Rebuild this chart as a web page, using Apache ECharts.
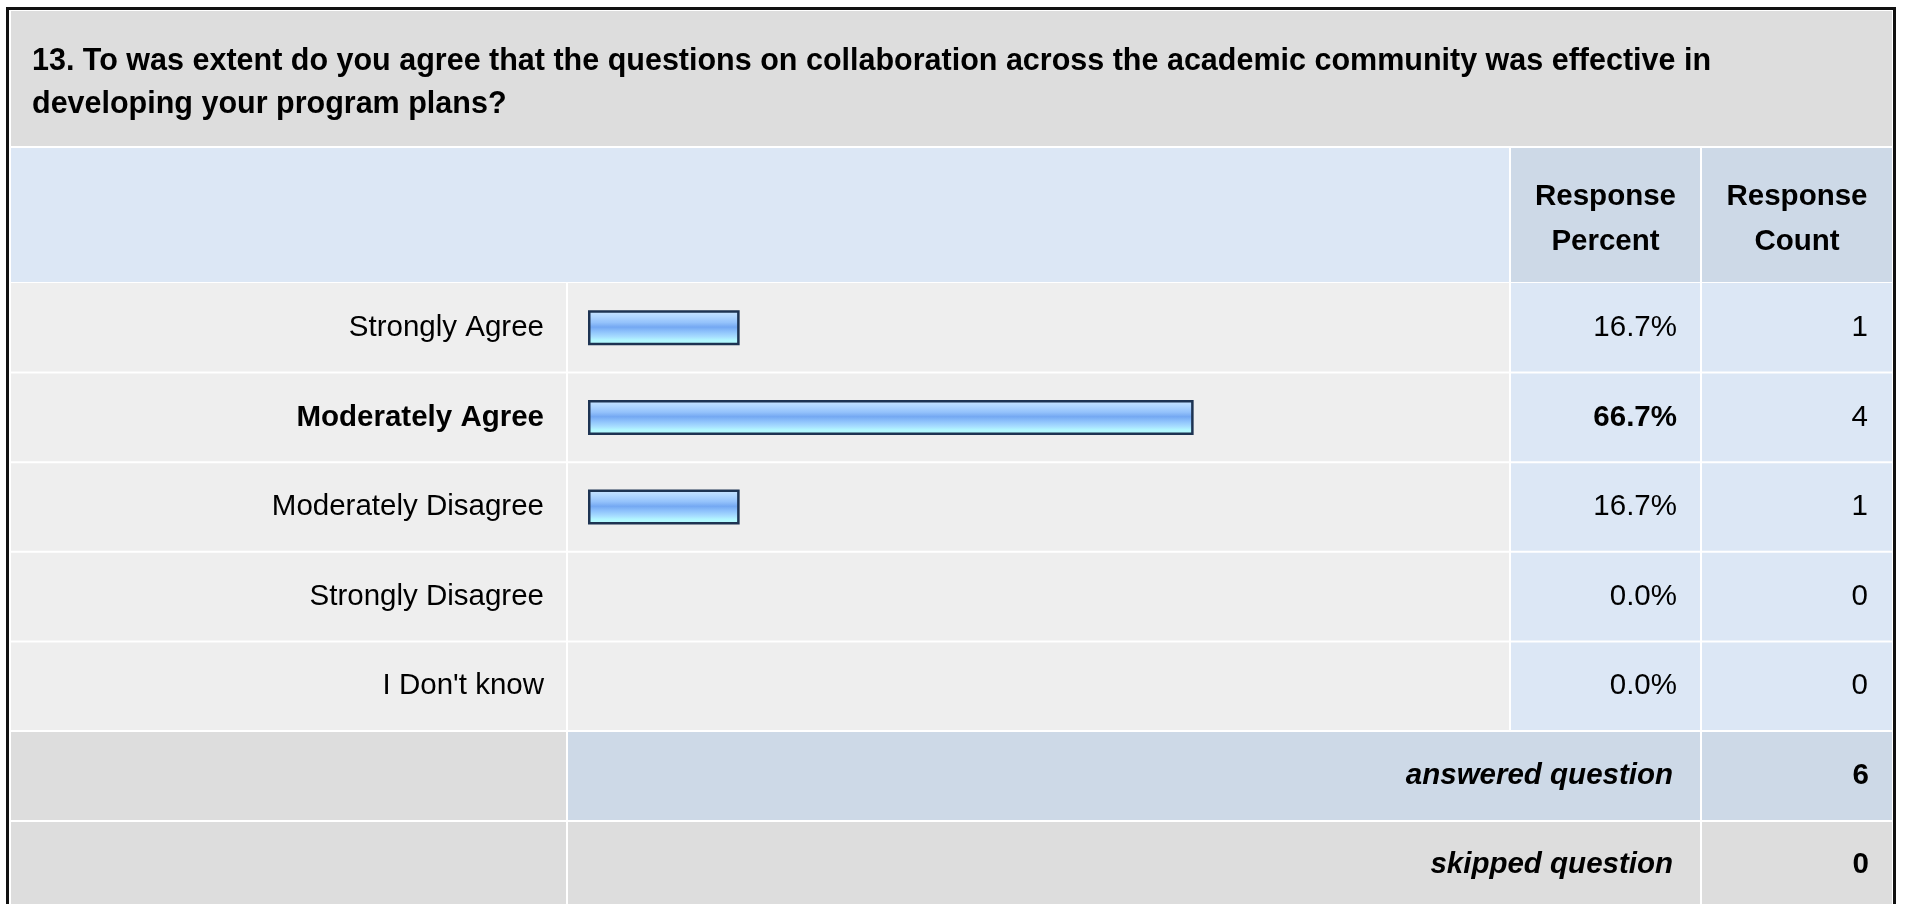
<!DOCTYPE html>
<html>
<head>
<meta charset="utf-8">
<script src="https://cdn.jsdelivr.net/npm/echarts@6/dist/echarts.min.js"></script>
<style>
html,body{margin:0;padding:0;background:#ffffff;}
#chart{width:1907px;height:904px;}
</style>
</head>
<body>
<div id="chart"></div>
<script>
// ---- data ----
var title = ['13. To was extent do you agree that the questions on collaboration across the academic community was effective in', 'developing your program plans?'];
var categories = ['Strongly Agree', 'Moderately Agree', 'Moderately Disagree', 'Strongly Disagree', "I Don't know"];
var percents = [16.7, 66.7, 16.7, 0.0, 0.0];
var counts = [1, 4, 1, 0, 0];
var boldRows = ['Moderately Agree'];
var answered = 6;
var skipped = 0;
var headerPercent = ['Response', 'Percent'];
var headerCount = ['Response', 'Count'];

// ---- layout ----
var FONT = '"Liberation Sans", Arial, sans-serif';
var FS = 29.5, FS_T = 30.5;
var X0 = 11, X1 = 566, XB = 568, XP0 = 1511, XP1 = 1700, XC0 = 1702, XC1 = 1892;
var Y_T0 = 11, Y_T1 = 146, Y_H0 = 148, Y_H1 = 282;
var ROW_TOP = 283, ROW_H = 89.6, N = categories.length;
var ROW_BOTTOM = ROW_TOP + ROW_H * N; // ~731
var Y_A0 = ROW_BOTTOM + 1, Y_A1 = 820, Y_S0 = 822, Y_S1 = 904;
var BAR_LEFT = 588, BAR_W = 908;

var C_GRAY = '#dddddd', C_ROW = '#eeeeee', C_LB = '#dce7f5', C_HB = '#cdd9e7';

var g = [];
function rect(x0, y0, x1, y1, color) {
  g.push({type: 'rect', z: 0, silent: true, shape: {x: x0, y: y0, width: x1 - x0, height: y1 - y0}, style: {fill: color}});
}
function text(x, y, str, align, weight, style, size) {
  g.push({type: 'text', z: 5, silent: true, x: x, y: y, style: {text: str, fill: '#000', font: (style || 'normal') + ' ' + (weight || 'normal') + ' ' + (size || FS) + 'px ' + FONT, align: align, verticalAlign: 'middle'}});
}
// frame
g.push({type: 'rect', z: 1, silent: true, shape: {x: 7.5, y: 8.5, width: 1887, height: 910}, style: {fill: 'none', stroke: '#111', lineWidth: 3}});
// title band
rect(X0, Y_T0, XC1, Y_T1, C_GRAY);
text(32, 62, title[0], 'left', 'bold', null, FS_T);
text(32, 105, title[1], 'left', 'bold', null, FS_T);
// header
rect(X0, Y_H0, XP0 - 2, Y_H1, C_LB);
rect(XP0, Y_H0, XP1, Y_H1, C_HB);
rect(XC0, Y_H0, XC1, Y_H1, C_HB);
text((XP0 + XP1) / 2, 197, headerPercent[0], 'center', 'bold');
text((XP0 + XP1) / 2, 242, headerPercent[1], 'center', 'bold');
text((XC0 + XC1) / 2, 197, headerCount[0], 'center', 'bold');
text((XC0 + XC1) / 2, 242, headerCount[1], 'center', 'bold');
// data rows
for (var i = 0; i < N; i++) {
  var y0 = ROW_TOP + ROW_H * i + (i ? 1 : 0), y1 = ROW_TOP + ROW_H * (i + 1) - 1;
  rect(X0, y0, X1, y1, C_ROW);
  rect(XB, y0, XP0 - 2, y1, C_ROW);
  rect(XP0, y0, XP1, y1, C_LB);
  rect(XC0, y0, XC1, y1, C_LB);
}
// answered / skipped
rect(X0, Y_A0, X1, Y_A1, C_GRAY);
rect(XB, Y_A0, XP1, Y_A1, C_HB);
rect(XC0, Y_A0, XC1, Y_A1, C_HB);
rect(X0, Y_S0, X1, Y_S1, C_GRAY);
rect(XB, Y_S0, XP1, Y_S1, C_GRAY);
rect(XC0, Y_S0, XC1, Y_S1, C_GRAY);
text(1673, (Y_A0 + Y_A1) / 2, 'answered question', 'right', 'bold', 'italic');
text(1869, (Y_A0 + Y_A1) / 2, String(answered), 'right', 'bold');
text(1673, (Y_S0 + Y_S1) / 2 + 2, 'skipped question', 'right', 'bold', 'italic');
text(1869, (Y_S0 + Y_S1) / 2 + 2, String(skipped), 'right', 'bold');

function isBold(name) { return boldRows.indexOf(name) >= 0; }
function labelFmt(v, idx) {
  return isBold(categories[idx]) ? '{b|' + v + '}' : '{n|' + v + '}';
}
var rich = {
  n: {fontFamily: FONT, fontSize: FS, color: '#000', fontWeight: 'normal'},
  b: {fontFamily: FONT, fontSize: FS, color: '#000', fontWeight: 'bold'}
};

var barData = percents.map(function (p) {
  return p > 0 ? p : {value: p, itemStyle: {borderWidth: 0, opacity: 0}};
});

var chart = echarts.init(document.getElementById('chart'), null, {renderer: 'canvas'});
chart.setOption({
  animation: false,
  backgroundColor: '#ffffff',
  graphic: {elements: g},
  grid: {left: BAR_LEFT, top: ROW_TOP, width: BAR_W, height: ROW_H * N, containLabel: false},
  xAxis: {type: 'value', min: 0, max: 100, show: false},
  yAxis: [
    {type: 'category', inverse: true, data: categories, position: 'left',
     axisLine: {show: false}, axisTick: {show: false}, splitLine: {show: false},
     axisLabel: {margin: 44, formatter: labelFmt, rich: rich}},
    {type: 'category', inverse: true, data: percents.map(function (p) { return p.toFixed(1) + '%'; }), position: 'right',
     axisLine: {show: false}, axisTick: {show: false}, splitLine: {show: false},
     axisLabel: {margin: 181, align: 'right', formatter: labelFmt, rich: rich}},
    {type: 'category', inverse: true, data: counts.map(String), position: 'right',
     axisLine: {show: false}, axisTick: {show: false}, splitLine: {show: false},
     axisLabel: {margin: 372, align: 'right', formatter: function (v) { return '{n|' + v + '}'; }, rich: rich}}
  ],
  series: [{
    type: 'bar',
    data: barData,
    barWidth: 35,
    z: 10,
    itemStyle: {
      borderColor: '#1d3352',
      borderWidth: 2.5,
      color: new echarts.graphic.LinearGradient(0, 0, 0, 1, [
        {offset: 0, color: '#cde6ff'},
        {offset: 0.18, color: '#b0d6ff'},
        {offset: 0.35, color: '#94c2fb'},
        {offset: 0.48, color: '#74a8f2'},
        {offset: 0.6, color: '#8cc0fb'},
        {offset: 0.75, color: '#a6dcff'},
        {offset: 0.85, color: '#b2f6ff'},
        {offset: 1, color: '#b6ffff'}
      ])
    }
  }]
});
</script>
</body>
</html>
